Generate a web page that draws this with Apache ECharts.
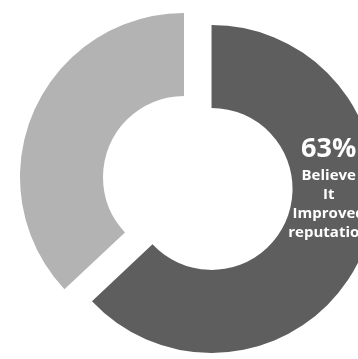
<!DOCTYPE html>
<html>
<head>
<meta charset="utf-8">
<script src="https://cdn.jsdelivr.net/npm/echarts@6/dist/echarts.min.js"></script>
<style>
  html, body { margin: 0; padding: 0; background: #ffffff; }
  #chart { width: 358px; height: 359px; }
</style>
</head>
<body>
<div id="chart"></div>
<script>
// Survey split: share who believe it improved reputation vs. the rest
const categories = ['Believe It Improved reputation', 'Other'];
const values = [63, 37];
const colors = ['#5e5e5e', '#b3b3b3'];
const labelLines = ['Believe', 'It', 'Improved', 'reputation'];

const chart = echarts.init(document.getElementById('chart'), null, { renderer: 'canvas' });

const data = categories.map((name, i) => ({
  name: name,
  value: values[i],
  selected: i === 0,
  itemStyle: { color: colors[i] },
  label: { show: i === 0 }
}));

chart.setOption({
  animation: false,
  series: [{
    type: 'pie',
    center: [184, 177],
    radius: [81, 164],
    startAngle: 90,
    clockwise: true,
    selectedMode: 'single',
    selectedOffset: 30,
    silent: true,
    data: data,
    label: {
      position: 'inside',
      color: '#ffffff',
      align: 'center',
      formatter: (p) => '{pct|' + p.value + '%}\n' + labelLines.map(t => '{txt|' + t + '}').join('\n'),
      rich: {
        pct: {
          fontFamily: 'Open Sans',
          fontWeight: 'bold',
          fontSize: 27,
          lineHeight: 32,
          color: '#ffffff',
          align: 'center'
        },
        txt: {
          fontFamily: 'Open Sans',
          fontWeight: 'bold',
          fontSize: 15,
          lineHeight: 19,
          color: '#ffffff',
          align: 'center'
        }
      }
    },
    labelLine: { show: false },
    labelLayout: { dx: 2, dy: -51 }
  }]
});
</script>
</body>
</html>
